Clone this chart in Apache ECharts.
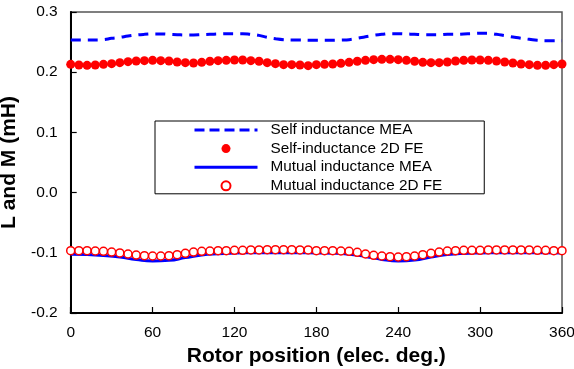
<!DOCTYPE html>
<html><head><meta charset="utf-8">
<script src="https://cdn.jsdelivr.net/npm/echarts@6/dist/echarts.min.js"></script>
<style>html,body{margin:0;padding:0;background:#fff}#c{width:574px;height:369px}</style>
</head><body><div id="c"></div>
<script>
const seriesNames = ['Self inductance MEA','Self-inductance 2D FE','Mutual inductance MEA','Mutual inductance 2D FE'];
const anglesFE = [0,6,12,18,24,30,36,42,48,54,60,66,72,78,84,90,96,102,108,114,120,126,132,138,144,150,156,162,168,174,180,186,192,198,204,210,216,222,228,234,240,246,252,258,264,270,276,282,288,294,300,306,312,318,324,330,336,342,348,354,360];
const selfMEA = [0.2535,0.2535,0.2535,0.2535,0.2541,0.2563,0.2579,0.2601,0.2618,0.2629,0.2635,0.2635,0.2629,0.2623,0.2618,0.2618,0.2623,0.2629,0.2635,0.2640,0.2640,0.2640,0.2629,0.2612,0.2579,0.2557,0.2541,0.2535,0.2535,0.2529,0.2529,
0.2529,0.2529,0.2535,0.2541,0.2563,0.2590,0.2612,0.2629,0.2640,0.2640,0.2635,0.2629,0.2623,0.2623,0.2623,0.2629,0.2629,0.2635,0.2640,0.2646,0.2646,0.2629,0.2607,0.2585,0.2563,0.2546,0.2529,0.2524,0.2524,0.2524];
const selfFE = [0.2131,0.2120,0.2114,0.2120,0.2131,0.2142,0.2158,0.2175,0.2186,0.2192,0.2197,0.2192,0.2186,0.2169,0.2158,0.2153,0.2164,0.2181,0.2192,0.2197,0.2203,0.2203,0.2192,0.2181,0.2158,0.2142,0.2125,0.2125,0.2120,0.2109,0.2125,
0.2131,0.2136,0.2147,0.2164,0.2181,0.2197,0.2208,0.2214,0.2214,0.2208,0.2197,0.2181,0.2164,0.2158,0.2158,0.2169,0.2186,0.2197,0.2203,0.2203,0.2197,0.2186,0.2169,0.2153,0.2136,0.2125,0.2114,0.2114,0.2125,0.2136];
const anglesMEA = [0,12,24,36,48,60,72,84,96,108,120,132,144,156,168,180,192,204,216,228,240,252,264,276,288,300,312,324,336,348,360];
const mutualMEA = [-0.1025,-0.1030,-0.1045,-0.1070,-0.1110,-0.1135,-0.1125,-0.1080,-0.1035,-0.1015,-0.1005,-0.1000,-0.0998,-0.0998,-0.1000,-0.1003,-0.1008,-0.1025,-0.1060,-0.1110,-0.1135,-0.1120,-0.1070,-0.1030,-0.1010,-0.1003,-0.1000,-0.0998,-0.0998,-0.1000,-0.1003];
const mutualFE = [-0.0965,-0.0965,-0.0965,-0.0970,-0.0976,-0.0987,-0.1003,-0.1020,-0.1037,-0.1048,-0.1053,-0.1053,-0.1048,-0.1031,-0.1009,-0.0987,-0.0976,-0.0970,-0.0965,-0.0965,-0.0959,-0.0959,-0.0953,-0.0953,-0.0948,-0.0948,-0.0948,-0.0948,-0.0953,-0.0953,-0.0965,
-0.0965,-0.0965,-0.0970,-0.0976,-0.0992,-0.1020,-0.1042,-0.1053,-0.1064,-0.1070,-0.1064,-0.1053,-0.1031,-0.1009,-0.0987,-0.0970,-0.0965,-0.0959,-0.0959,-0.0959,-0.0953,-0.0953,-0.0953,-0.0953,-0.0953,-0.0953,-0.0959,-0.0959,-0.0965,-0.0965];
const xTicks = {min:0, max:360, interval:60};
const yTicks = {min:-0.2, max:0.3, interval:0.1};

const pair = (xs, ys) => xs.map((x,i)=>[x, ys[i]]);
const FONT = '"Liberation Sans", Arial, sans-serif';
const chart = echarts.init(document.getElementById('c'), null, {renderer:'canvas'});
chart.setOption({
  animation:false,
  backgroundColor:'#fff',
  grid:{left:70.7, right:12, top:12, bottom:56, containLabel:false, outerBoundsMode:'none',
    show:true, borderColor:'#555', borderWidth:1.5, backgroundColor:'transparent'},
  legend:{
    orient:'vertical', left:155, top:121, padding:[1,42,0,38], itemGap:2.6,
    itemWidth:63, itemHeight:9, borderColor:'#000', borderWidth:1, backgroundColor:'#fff',
    textStyle:{fontFamily:FONT, fontSize:15.3, color:'#000', lineHeight:16, padding:[0,0,0,8]},
    data:[
      {name:seriesNames[0], itemStyle:{opacity:0}, lineStyle:{width:3, type:[10,5]}},
      {name:seriesNames[1]},
      {name:seriesNames[2], itemStyle:{opacity:0}, lineStyle:{width:3}},
      {name:seriesNames[3]}
    ]
  },
  xAxis:{type:'value', min:xTicks.min, max:xTicks.max, interval:xTicks.interval,
    name:'Rotor position (elec. deg.)', nameLocation:'middle', nameGap:31,
    nameTextStyle:{fontFamily:FONT, fontSize:21, fontWeight:'bold', color:'#000'},
    axisLine:{onZero:false, lineStyle:{color:'#000', width:2}},
    axisTick:{inside:true, length:6, lineStyle:{color:'#000', width:1.2}},
    axisLabel:{fontFamily:FONT, fontSize:15.5, color:'#000', margin:12},
    splitLine:{show:false}},
  yAxis:{type:'value', min:yTicks.min, max:yTicks.max, interval:yTicks.interval,
    name:'L and M (mH)', nameLocation:'middle', nameGap:44, nameRotate:90,
    nameTextStyle:{fontFamily:FONT, fontSize:21, fontWeight:'bold', color:'#000'},
    axisLine:{onZero:false, lineStyle:{color:'#000', width:2}},
    axisTick:{inside:true, length:6, lineStyle:{color:'#000', width:1.2}},
    axisLabel:{fontFamily:FONT, fontSize:15.5, color:'#000', margin:13, formatter:v=>v.toFixed(1)},
    splitLine:{show:false}},
  series:[
    {name:seriesNames[0], type:'line', data:pair(anglesFE, selfMEA), smooth:true, symbol:'none',
      lineStyle:{color:'#0000ff', width:3, type:[10,7]}, itemStyle:{color:'#0000ff'}, z:2},
    {name:seriesNames[1], type:'scatter', data:pair(anglesFE, selfFE), symbol:'circle', symbolSize:9,
      itemStyle:{color:'#ff0000', opacity:1}, z:3},
    {name:seriesNames[2], type:'line', data:pair(anglesMEA, mutualMEA), smooth:true, symbol:'none',
      lineStyle:{color:'#0000ff', width:3}, itemStyle:{color:'#0000ff'}, z:2},
    {name:seriesNames[3], type:'scatter', data:pair(anglesFE, mutualFE), symbol:'circle', symbolSize:8,
      itemStyle:{color:'#ffffff', borderColor:'#ff0000', borderWidth:1.5, opacity:1}, z:3}
  ]
});
</script></body></html>
